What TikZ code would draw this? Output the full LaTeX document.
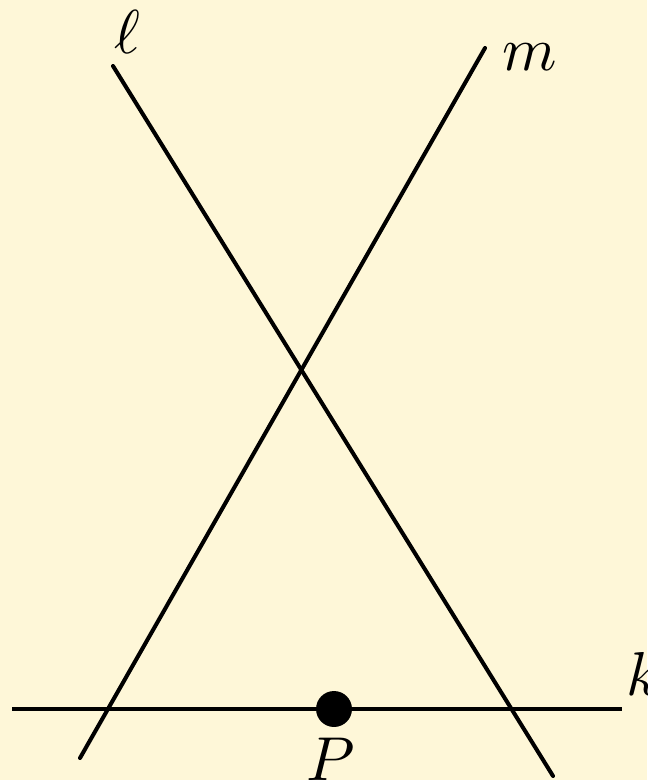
\documentclass[tikz,border=0pt]{standalone}
\definecolor{bgcol}{RGB}{254,247,216}
\begin{document}
\begin{tikzpicture}[x=0.1613pt,y=-0.1613pt,
  ln/.style={line width=0.65pt, line cap=round},
  lbl/.style={inner sep=0pt, font=\normalsize},
  dot/.style={circle, fill=black, minimum size=5.8pt, inner sep=0pt}]
\fill[bgcol] (0,0) rectangle (647,780);
\useasboundingbox (0,0) rectangle (647,780);
\coordinate (l1) at (113,66);
\coordinate (l2) at (553,776);
\coordinate (m1) at (485,48);
\coordinate (m2) at (80,758);
\coordinate (k1) at (12,709);
\coordinate (k2) at (622,709);
\draw[ln] (l1) -- (l2);
\draw[ln] (m1) -- (m2);
\draw[ln, line cap=butt] (k1) -- (k2);
\node[dot] (P) at (334,709) {};
\node[lbl] (lab-l) at (127,32) {$\ell$};
\node[lbl] (lab-m) at (530,57) {$m$};
\node[lbl, anchor=base west] (lab-k) at (625,695) {$k$};
\node[lbl, anchor=north west] (lab-P) at (305,737) {$P$};
\end{tikzpicture}
\end{document}
